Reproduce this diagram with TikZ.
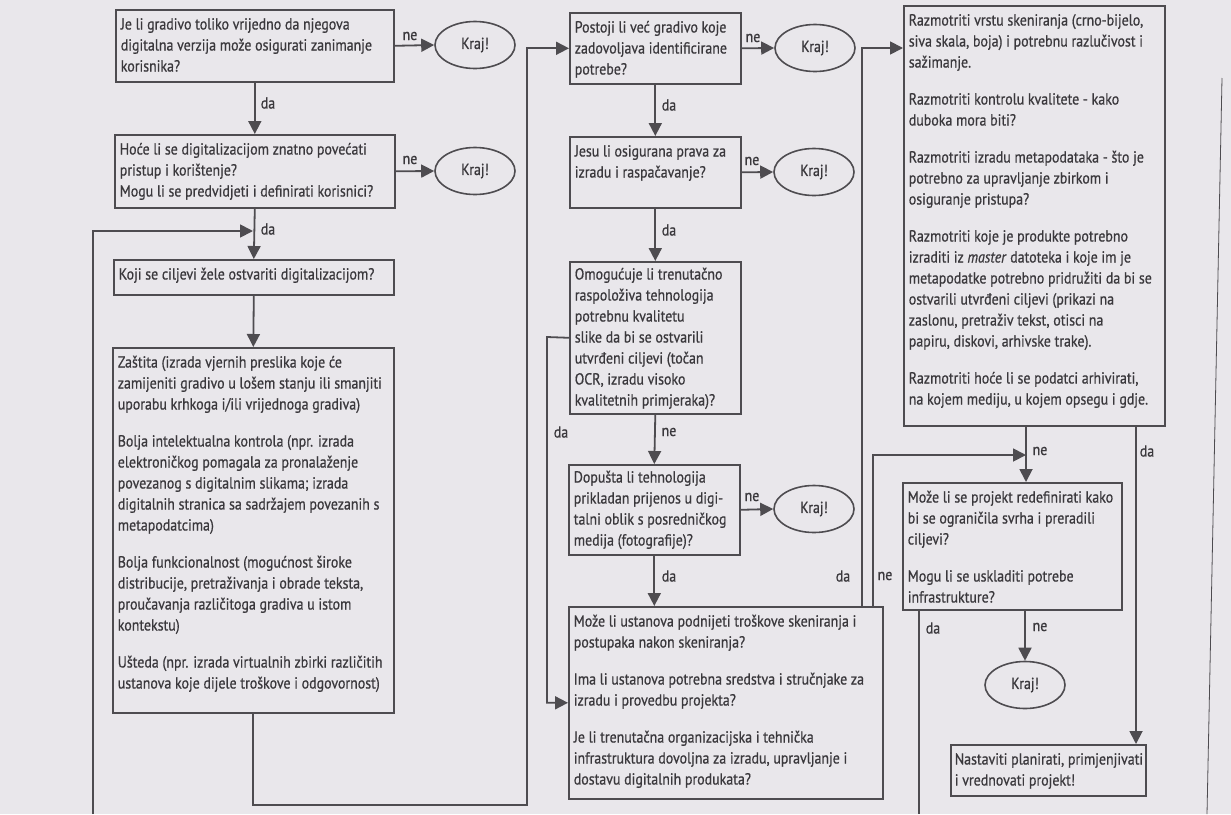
\documentclass[tikz,border=0pt]{standalone}
\usepackage{fontspec}
\setmainfont{PT Sans}[FakeStretch=0.87,FakeBold=0.7]
\usetikzlibrary{arrows.meta,shapes.geometric}
\definecolor{ln}{HTML}{4E4C50}
\definecolor{tx}{HTML}{3A383C}
\definecolor{bgc}{HTML}{E9E7EB}
\newcommand\bt[3]{\parbox[c][#2][t]{#1}{\begin{tabular}{@{}l@{}}#3\end{tabular}}}
\newcommand\pgap{\\[16pt]}
\begin{document}
\begin{tikzpicture}[x=1pt,y=-1pt,
  font=\fontsize{16}{21}\selectfont,
  box/.style={draw=ln, line width=1.6pt, rectangle, anchor=north west, inner xsep=5pt, inner ysep=5pt, text=tx},
  kraj/.style={draw=ln, line width=1.6pt, ellipse, minimum width=80pt, minimum height=47pt, inner sep=0pt, text=tx},
  arr/.style={draw=ln, line width=1.8pt, -{Triangle[length=13pt,width=13pt]}},
  con/.style={draw=ln, line width=1.8pt},
  lbl/.style={text=tx, inner sep=1pt}]
\fill[bgc] (0,0) rectangle (1231,814);
\useasboundingbox (0,0) rectangle (1231,814);

% column 1
\node[box] (A) at (115,9) {\bt{268pt}{62pt}{Je li gradivo toliko vrijedno da njegova\\ digitalna verzija može osigurati zanimanje\\ korisnika?}};
\node[box] (B) at (114,134) {\bt{270pt}{63pt}{Hoće li se digitalizacijom znatno povećati\\ pristup i korištenje?\\ Mogu li se predvidjeti i definirati korisnici?}};
\node[box] (C) at (113,259) {\bt{270pt}{25pt}{Koji se ciljevi žele ostvariti digitalizacijom?}};
\node[box] (D) at (112,347) {\bt{271pt}{355pt}{Zaštita (izrada vjernih preslika koje će\\ zamijeniti gradivo u lošem stanju ili smanjiti\\ uporabu krhkoga i/ili vrijednoga gradiva)\pgap
Bolja intelektualna kontrola (npr. izrada\\ elektroničkog pomagala za pronalaženje\\ povezanog s digitalnim slikama; izrada\\ digitalnih stranica sa sadržajem povezanih s\\ metapodatcima)\pgap
Bolja funkcionalnost (mogućnost široke\\ distribucije, pretraživanja i obrade teksta,\\ proučavanja različitoga gradiva u istom\\ kontekstu)\pgap
Ušteda (npr. izrada virtualnih zbirki različitih\\ ustanova koje dijele troškove i odgovornost)}};
\node[kraj] (k1) at (475,45) {Kraj!};
\node[kraj] (k2) at (475,171) {Kraj!};

% column 2
\node[box] (E) at (569,12) {\bt{161pt}{61pt}{Postoji li već gradivo koje\\ zadovoljava identificirane\\ potrebe?}};
\node[box] (F) at (569,136) {\bt{161pt}{61pt}{Jesu li osigurana prava za\\ izradu i raspačavanje?}};
\node[box, inner ysep=3pt] (G) at (569,261) {\bt{161pt}{146pt}{Omogućuje li trenutačno\\ raspoloživa tehnologija\\ potrebnu kvalitetu\\ slike da bi se ostvarili\\ utvrđeni ciljevi (točan\\ OCR, izradu visoko\\ kvalitetnih primjeraka)?}};
\node[box, inner ysep=3pt] (G2) at (568,464) {\bt{161pt}{84pt}{Dopušta li tehnologija\\ prikladan prijenos u digi-\\ talni oblik s posredničkog\\ medija (fotografije)?}};
\node[box] (H) at (568,606) {\bt{304pt}{182pt}{Može li ustanova podnijeti troškove skeniranja i\\ postupaka nakon skeniranja?\pgap
Ima li ustanova potrebna sredstva i stručnjake za\\ izradu i provedbu projekta?\pgap
Je li trenutačna organizacijska i tehnička\\ infrastruktura dovoljna za izradu, upravljanje i\\ dostavu digitalnih produkata?}};
\node[kraj] (k3) at (815,48) {Kraj!};
\node[kraj] (k4) at (814,172) {Kraj!};
\node[kraj] (k5) at (814,509) {Kraj!};

% column 3
\node[box] (I) at (903,5) {\bt{251pt}{410pt}{Razmotriti vrstu skeniranja (crno-bijelo,\\ siva skala, boja) i potrebnu razlučivost i\\ sažimanje.\pgap
Razmotriti kontrolu kvalitete - kako\\ duboka mora biti?\pgap
Razmotriti izradu metapodataka - što je\\ potrebno za upravljanje zbirkom i\\ osiguranje pristupa?\pgap
Razmotriti koje je produkte potrebno\\ izraditi iz \textit{master} datoteka i koje im je\\ metapodatke potrebno pridružiti da bi se\\ ostvarili utvrđeni ciljevi (prikazi na\\ zaslonu, pretraživ tekst, otisci na\\ papiru, diskovi, arhivske trake).\pgap
Razmotriti hoće li se podatci arhivirati,\\ na kojem mediju, u kojem opsegu i gdje.}};
\node[box] (J) at (902,482) {\bt{209pt}{117pt}{Može li se projekt redefinirati kako\\ bi se ograničila svrha i preradili\\ ciljevi?\pgap
Mogu li se uskladiti potrebe\\ infrastrukture?}};
\node[kraj] (k6) at (1025,685) {Kraj!};
\node[box, inner xsep=4pt] (K) at (950,744) {\bt{187pt}{41pt}{Nastaviti planirati, primjenjivati\\ i vrednovati projekt!}};

% coordinates
\coordinate (c0) at (93,814);
\coordinate (c8) at (253,231);
\coordinate (c1) at (527,805);
\coordinate (c2) at (547,337);
\coordinate (c3) at (862,48);
\coordinate (c4) at (1026,455);
\coordinate (c5) at (873,455);
\coordinate (c6) at (1136,455);
\coordinate (c7) at (919,814);
\coordinate (e1) at (1222,78);
\coordinate (e2) at (1207,814);

% connectors
\draw[arr] (A.east) -- (k1.west);
\draw[arr] (A.south) -- (B.north);
\draw[arr] (B.east) -- (k2.west);
\draw[arr] (B.south) -- (C.north);
\draw[arr] (c0) |- (c8);
\draw[arr] (C.south) -- (D.north);
\draw[arr] (D.south) |- (c1) |- (E.west);
\draw[arr] (E.east) -- (k3.west);
\draw[arr] (E.south) -- (F.north);
\draw[arr] (F.east) -- (k4.west);
\draw[arr] (F.south) -- (G.north);
\draw[arr] (G.west) -- (c2) |- (H.west);
\draw[arr] (G.south) -- (G2.north);
\draw[arr] (G2.east) -- (k5.west);
\draw[arr] (G2.south) -- (H.north -| G2.south);
\draw[arr] (H.north -| c3) -- (c3) -- (I.west |- c3);
\draw[arr] (H.north -| c5) -- (c5) -- (c4);
\draw[arr] (I.south -| c4) -- (J.north -| c4);
\draw[arr] (I.south -| c6) -- (K.north -| c6);
\draw[arr] (J.south -| k6) -- (k6.north);
\draw[con] (J.south -| c7) -- (c7);
\draw[ln, line width=0.8pt] (e1) -- (e2);

% labels
\node[lbl] (l1) at (410,36) {ne};
\node[lbl] (l2) at (268,103) {da};
\node[lbl] (l3) at (410,160) {ne};
\node[lbl] (l4) at (268,229) {da};
\node[lbl] (l5) at (753,38) {ne};
\node[lbl] (l6) at (669,105) {da};
\node[lbl] (l7) at (752,161) {ne};
\node[lbl] (l8) at (669,230) {da};
\node[lbl] (l9) at (561,432) {da};
\node[lbl] (l10) at (669,432) {ne};
\node[lbl] (l11) at (752,497) {ne};
\node[lbl] (l12) at (669,576) {da};
\node[lbl] (l13) at (843,576) {da};
\node[lbl] (l14) at (885,576) {ne};
\node[lbl] (l15) at (1040,451) {ne};
\node[lbl] (l16) at (1147,451) {da};
\node[lbl] (l17) at (1040,627) {ne};
\node[lbl] (l18) at (933,628) {da};
\end{tikzpicture}
\end{document}
